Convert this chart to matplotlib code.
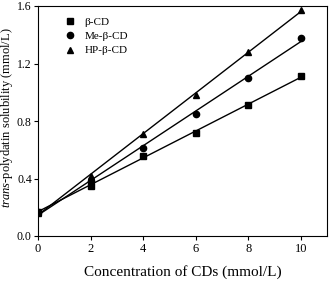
import numpy as np
import matplotlib
matplotlib.use('Agg')
import matplotlib.pyplot as plt

plt.rcParams['font.family'] = ['Liberation Serif', 'DejaVu Serif']
plt.rcParams['mathtext.fontset'] = 'custom'
plt.rcParams['mathtext.it'] = 'Liberation Serif:italic'
plt.rcParams['mathtext.rm'] = 'Liberation Serif'

# Concentration of CDs (mmol/L)
conc = [0, 2, 4, 6, 8, 10]
# trans-polydatin solubility (mmol/L)
beta_cd = [0.17, 0.35, 0.56, 0.72, 0.91, 1.11]
me_beta_cd = [0.17, 0.38, 0.61, 0.85, 1.10, 1.38]
hp_beta_cd = [0.16, 0.42, 0.71, 0.98, 1.28, 1.57]

series = [
    ('β-CD', beta_cd, 's'),
    ('Me-β-CD', me_beta_cd, 'o'),
    ('HP-β-CD', hp_beta_cd, '^'),
]

fig = plt.figure(figsize=(3.29, 2.84), dpi=100)
ax = fig.add_axes([38 / 329, 48 / 284, 289 / 329, 230 / 284])

x = np.array(conc, dtype=float)
for label, y, marker in series:
    ax.plot(x, y, linestyle='none', marker=marker, color='black',
            markersize=4.5, label=label)
    k, b = np.polyfit(x, y, 1)
    ax.plot(x, k * x + b, color='black', linewidth=1.0)

ax.set_xlim(0, 11)
ax.set_ylim(0, 1.6)
ax.set_xticks([0, 2, 4, 6, 8, 10])
ax.set_yticks([0.0, 0.4, 0.8, 1.2, 1.6])
ax.set_yticklabels(['0.0', '0.4', '0.8', '1.2', '1.6'])
ax.tick_params(direction='out', length=3, width=0.8, labelsize=8.5, pad=1.5)
ax.tick_params(axis='x', labelsize=9, pad=2)
for s in ax.spines.values():
    s.set_linewidth(0.8)

ax.set_xlabel('Concentration of CDs (mmol/L)', fontsize=11, labelpad=7)
ax.set_ylabel(r'$\mathit{trans}$-polydatin solubility (mmol/L)', fontsize=9)
ax.yaxis.set_label_coords(-0.079, 0.515)

ax.legend(loc='upper left', bbox_to_anchor=(0.06, 0.99), frameon=False,
          fontsize=8, handlelength=1.0, handletextpad=0.8, labelspacing=0.4,
          borderpad=0.3)

fig.savefig('out.png', dpi=100)
